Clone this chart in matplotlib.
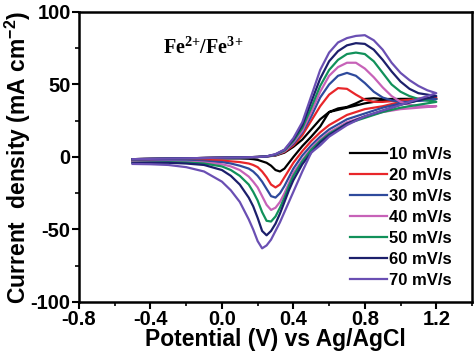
import matplotlib
matplotlib.use("Agg")
import matplotlib.pyplot as plt
from matplotlib.ticker import MultipleLocator

plt.rcParams['font.family'] = ['Liberation Sans', 'DejaVu Sans']
plt.rcParams['font.weight'] = 'bold'
plt.rcParams['mathtext.fontset'] = 'custom'
plt.rcParams['mathtext.rm'] = 'Liberation Sans:bold'
plt.rcParams['mathtext.bf'] = 'Liberation Serif:bold'

# scan rates and colours
labels = ['10 mV/s', '20 mV/s', '30 mV/s', '40 mV/s', '50 mV/s', '60 mV/s', '70 mV/s']
colors = ['#000000', '#e8262a', '#2e4a9c', '#c762b8', '#11915a', '#1c1f6b', '#6a4fb3']

# anodic (forward) sweep
x_fwd = [-0.5, -0.4, -0.3, -0.2, -0.1, 0.0, 0.1, 0.2, 0.25, 0.3, 0.35, 0.4, 0.45, 0.5,
         0.55, 0.6, 0.65, 0.7, 0.75, 0.8, 0.85, 0.9, 0.95, 1.0, 1.05, 1.1, 1.15, 1.2]
base = [-1.5, -1.3, -1.1, -0.9, -0.7, -0.5, -0.3, 0.0, 0.4]
fwd_10 = base + [1.0, 3.0, 7.0, 12, 19, 26, 31, 33.5, 34.5, 37, 40, 40.5, 40, 40, 40, 40, 40, 40, 40]
fwd_20 = base + [1.2, 3.5, 8.0, 15, 25, 35, 43, 47.5, 47, 43, 39.5, 38, 38, 38.5, 39, 39.5, 40, 40.5, 41]
fwd_30 = base + [1.3, 4.0, 9.0, 17, 28, 41, 50, 56, 58, 56, 51, 45, 41, 39, 38, 38, 39, 39, 40]
fwd_40 = base + [1.5, 4.0, 10, 18, 31, 45, 56, 62, 65, 65, 61, 55, 48, 42, 38, 36, 35, 35, 35]
fwd_50 = base + [1.6, 4.5, 11, 20, 34, 49, 60, 67, 71, 72, 71, 66, 58, 50, 45, 42, 40, 39, 38]
fwd_60 = base + [1.8, 5.0, 12, 22, 38, 54, 66, 73, 77, 78.5, 78, 74, 67, 59, 52, 47, 44, 43, 42]
fwd_70 = base + [2.0, 5.0, 13, 24, 42, 60, 72, 79, 82, 83.5, 84, 80.5, 74, 65, 58, 53, 49, 46, 44]

# cathodic (reverse) sweep
x_rev = [1.2, 1.1, 1.0, 0.9, 0.8, 0.7, 0.6, 0.55, 0.5, 0.45, 0.4, 0.375, 0.35, 0.325, 0.3,
         0.275, 0.25, 0.225, 0.2, 0.175, 0.15, 0.1, 0.05, 0.0, -0.1, -0.2, -0.3, -0.4, -0.5]
rev_10 = [40, 40, 40, 39, 37, 34, 31, 21, 14, 7.5, 0, -4, -8, -10, -9, -6, -4, -3, -2,
          -1.5, -1.2, -1, -1, -1, -1, -1.2, -1.5, -2, -2.5]
rev_20 = [41, 40, 38, 35, 33, 29, 22, 17, 11, 4, -4, -9, -14, -19, -21, -19, -14, -10, -7,
          -5.5, -4.5, -3.5, -3, -2.5, -2, -2, -2.2, -2.5, -3]
rev_30 = [40, 39, 37, 34, 30, 26, 19, 14, 8, 1, -8, -14, -20, -25, -28, -27, -22, -17, -13,
          -10, -8, -6, -4.5, -3.5, -3, -2.8, -2.8, -3, -3.2]
rev_40 = [35, 34, 33, 31, 28, 24, 17, 12, 6, -2, -11, -18, -25, -31, -35, -36.5, -33, -27, -21,
          -17, -13.5, -9, -6.5, -5, -3.8, -3.3, -3.2, -3.4, -3.6]
rev_50 = [38, 36, 34, 31, 27, 23, 16, 11, 5, -3, -13, -20, -28, -35, -41, -44.5, -44, -38, -30,
          -24, -19, -13, -9, -6.5, -4.5, -3.8, -3.6, -3.8, -4]
rev_60 = [42, 39, 36, 32, 28, 23, 15, 10, 3, -5, -16, -23, -31, -39, -46, -51, -54, -51, -42,
          -34, -28, -19, -13, -9, -5.5, -4.5, -4, -4, -4.2]
rev_70 = [44, 40, 36, 32, 28, 22, 14, 8, 3, -10, -24, -31, -38, -45, -51, -57, -61, -63, -58,
          -50, -43, -31, -23, -17, -10, -7, -5.5, -5, -4.8]

fwd = [fwd_10, fwd_20, fwd_30, fwd_40, fwd_50, fwd_60, fwd_70]
rev = [rev_10, rev_20, rev_30, rev_40, rev_50, rev_60, rev_70]

fig = plt.figure(figsize=(4.74, 3.59), dpi=100)
ax = fig.add_axes([0.1667, 0.1588, 0.8291, 0.8078])

for yf, yr, c, lab in zip(fwd, rev, colors, labels):
    ax.plot(x_fwd + x_rev, yf + yr, color=c, lw=1.6, label=lab)

ax.set_xlim(-0.8, 1.4)
ax.set_ylim(-100, 100)
ax.xaxis.set_minor_locator(MultipleLocator(0.2))
ax.yaxis.set_minor_locator(MultipleLocator(25))
ax.set_xticks([-0.8, -0.4, 0.0, 0.4, 0.8, 1.2])
ax.set_xticklabels(['-0.8', '-0.4', '0.0', '0.4', '0.8', '1.2'])
ax.set_yticks([-100, -50, 0, 50, 100])
ax.set_yticklabels(['-100', '-50', '0', '50', '100'])
ax.tick_params(which='major', direction='out', length=5, width=1.5, labelsize=14.5, pad=1)
ax.tick_params(which='minor', direction='out', length=3, width=1.2)
for s in ax.spines.values():
    s.set_linewidth(1.8)

ax.set_xlabel('Potential (V) vs Ag/AgCl', fontsize=16.5, fontweight='bold', labelpad=-1)
ax.set_ylabel('Current  density (mA cm$^{-2}$)', fontsize=16.5, fontweight='bold', labelpad=-2)

ax.text(0.214, 0.855, r'$\mathbf{Fe^{2{+}}/Fe^{3{+}}}$', transform=ax.transAxes, fontsize=14.5)

ax.legend(loc='upper left', bbox_to_anchor=(0.69, 0.535), frameon=False, fontsize=12,
          handlelength=2.2, handletextpad=0.15, labelspacing=0.36, borderpad=0, borderaxespad=0)

fig.savefig('out.png', dpi=100)
